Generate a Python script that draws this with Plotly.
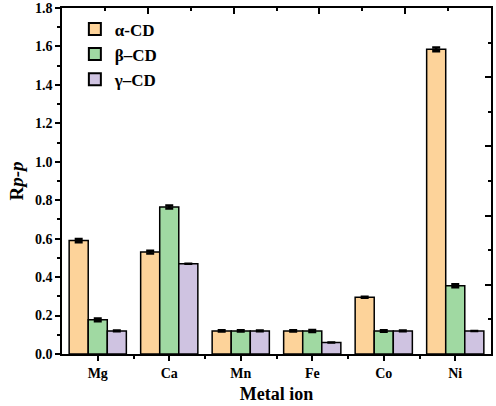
import plotly.graph_objects as go

# valeurs
metals = ['Mg', 'Ca', 'Mn', 'Fe', 'Co', 'Ni']
alpha_cd = [0.59, 0.53, 0.12, 0.12, 0.295, 1.585]
alpha_err = [0.008, 0.007, 0.003, 0.003, 0.003, 0.010]
beta_cd = [0.178, 0.765, 0.12, 0.12, 0.12, 0.355]
beta_err = [0.007, 0.008, 0.003, 0.005, 0.004, 0.008]
gamma_cd = [0.12, 0.47, 0.12, 0.06, 0.12, 0.12]
gamma_err = [0.002, 0, 0.002, 0, 0.002, 0]

series = [
    ('α-CD', alpha_cd, alpha_err, '#FDD39A'),
    ('β–CD', beta_cd, beta_err, '#A0D9A2'),
    ('γ–CD', gamma_cd, gamma_err, '#CFC3E1'),
]

xpos = list(range(len(metals)))
font = 'Liberation Serif'
tick_style = dict(tickwidth=1.5, tickcolor='black')

fig = go.Figure()
for name, vals, errs, color in series:
    fig.add_trace(go.Bar(
        x=xpos, y=vals, name=name,
        marker=dict(color=color, line=dict(color='black', width=1.5)),
        error_y=dict(type='data', array=errs, color='black', thickness=2.5, width=4),
    ))

# traces invisibles pour afficher les axes du cadre (haut et droite)
fig.add_trace(go.Scatter(x=[0, 10], y=[0, 0.1], xaxis='x2', yaxis='y', mode='lines',
                         line=dict(color='rgba(0,0,0,0)'), showlegend=False, hoverinfo='skip'))
fig.add_trace(go.Scatter(x=[0, 0.1], y=[0, 10], xaxis='x', yaxis='y2', mode='lines',
                         line=dict(color='rgba(0,0,0,0)'), showlegend=False, hoverinfo='skip'))

fig.update_layout(
    width=496, height=406,
    margin=dict(l=62, r=5, t=8, b=52, autoexpand=False),
    plot_bgcolor='white', paper_bgcolor='white',
    barmode='group', bargap=0.2, bargroupgap=0,
    font=dict(family=font, size=13, color='black'),
    showlegend=True,
    legend=dict(x=0.03, y=0.99, xanchor='left', yanchor='top',
                font=dict(family=font, size=17, color='black', weight='bold'),
                itemsizing='constant', tracegroupgap=0,
                bgcolor='rgba(0,0,0,0)'),
    xaxis=dict(
        range=[-0.5, 5.5], tickvals=xpos, ticktext=metals,
        showline=True, linecolor='black', linewidth=1.5,
        ticks='outside', ticklen=5, **tick_style,
        minor=dict(tickvals=[i + 0.5 for i in xpos[:-1]], ticks='outside', ticklen=3, **tick_style),
        tickfont=dict(family=font, size=14, color='black', weight='bold'),
        ticklabelstandoff=0,
        title=dict(text='<b>Metal ion</b>', font=dict(family=font, size=18), standoff=8),
        showgrid=False, zeroline=False, automargin=False,
    ),
    yaxis=dict(
        range=[0, 1.8], dtick=0.2, tickformat='.1f',
        showline=True, linecolor='black', linewidth=1.5,
        ticks='outside', ticklen=5, **tick_style,
        minor=dict(dtick=0.1, ticks='outside', ticklen=3, **tick_style),
        tickfont=dict(family=font, size=14, color='black', weight='bold'),
        title=dict(text='<b>R<i>p-p</i></b>', font=dict(family=font, size=19), standoff=6),
        showgrid=False, zeroline=False, automargin=False,
    ),
    xaxis2=dict(
        overlaying='x', side='top', anchor='y', range=[0, 10],
        tickmode='linear', tick0=0, dtick=2,
        showline=True, linecolor='black', linewidth=2,
        ticks='inside', ticklen=6, **tick_style,
        minor=dict(dtick=1, ticks='inside', ticklen=3, **tick_style),
        showticklabels=False, showgrid=False, zeroline=False, automargin=False,
    ),
    yaxis2=dict(
        overlaying='y', side='right', anchor='x', range=[0, 10],
        tickmode='linear', tick0=0, dtick=2,
        showline=True, linecolor='black', linewidth=2,
        ticks='inside', ticklen=6, **tick_style,
        minor=dict(dtick=1, ticks='inside', ticklen=3, **tick_style),
        showticklabels=False, showgrid=False, zeroline=False, automargin=False,
    ),
)

# marge par défaut du <body> supprimée pour que la figure occupe toute la fenêtre
fig.write_html("out.html", config={'displayModeBar': False},
               post_script="document.body.style.margin='0';")
